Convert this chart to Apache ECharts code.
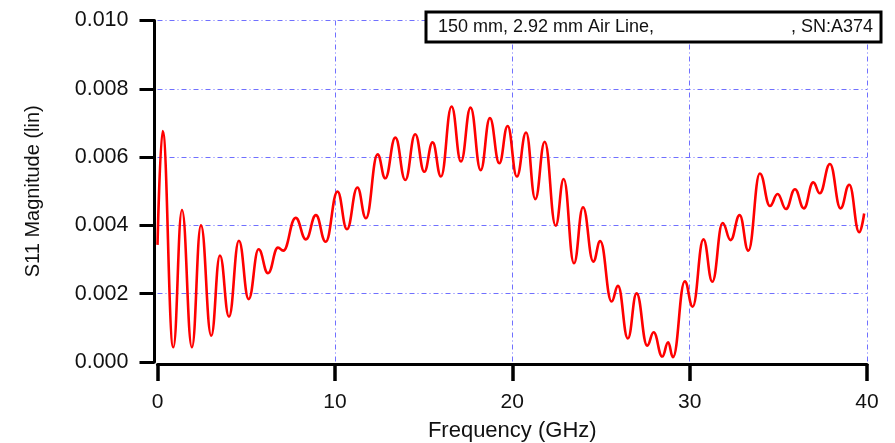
<!DOCTYPE html>
<html>
<head>
<meta charset="utf-8">
<script src="https://cdn.jsdelivr.net/npm/echarts@6/dist/echarts.min.js"></script>
<style>
  html, body { margin: 0; padding: 0; background: #fff; }
  #chart { width: 895px; height: 443px; }
</style>
</head>
<body>
<div id="chart"></div>
<script>
// frequency (GHz) of each local peak / trough
const freqGHz = [
  0, 0.29, 0.89, 1.38, 1.94, 2.45, 3.03, 3.52, 4.03, 4.59,
  5.14, 5.70, 6.23, 6.79, 7.09, 7.79, 8.37, 8.93, 9.48, 10.15,
  10.68, 11.27, 11.75, 12.41, 12.84, 13.41, 13.97, 14.53, 15.04, 15.51,
  15.98, 16.58, 17.11, 17.65, 18.22, 18.74, 19.27, 19.74, 20.26, 20.78,
  21.30, 21.83, 22.45, 22.90, 23.48, 23.99, 24.57, 24.96, 25.60, 25.96,
  26.52, 27.01, 27.61, 27.97, 28.46, 28.79, 29.06, 29.73, 30.17, 30.78,
  31.28, 31.86, 32.31, 32.82, 33.31, 33.96, 34.53, 34.96, 35.43, 35.94,
  36.44, 36.97, 37.34, 37.91, 38.51, 39.00, 39.56, 39.84
];
// S11 magnitude (linear) at those frequencies
const s11Mag = [
  0.00343, 0.00676, 0.00043, 0.00445, 0.00043, 0.00400, 0.00077, 0.00312, 0.00133, 0.00355,
  0.00184, 0.00330, 0.00260, 0.00335, 0.00326, 0.00422, 0.00359, 0.00430, 0.00352, 0.00499,
  0.00389, 0.00511, 0.00421, 0.00608, 0.00538, 0.00657, 0.00533, 0.00667, 0.00557, 0.00643,
  0.00543, 0.00748, 0.00587, 0.00745, 0.00562, 0.00714, 0.00582, 0.00691, 0.00543, 0.00672,
  0.00477, 0.00645, 0.00399, 0.00536, 0.00289, 0.00453, 0.00294, 0.00354, 0.00177, 0.00223,
  0.00069, 0.00201, 0.00048, 0.00087, 0.00016, 0.00058, 0.00014, 0.00236, 0.00162, 0.00359,
  0.00235, 0.00407, 0.00357, 0.00430, 0.00326, 0.00552, 0.00457, 0.00492, 0.00448, 0.00506,
  0.00450, 0.00526, 0.00494, 0.00580, 0.00450, 0.00519, 0.00380, 0.00435
];
const legendLeft = "150 mm, 2.92 mm Air Line,";
const legendRight = ", SN:A374";

const chart = echarts.init(document.getElementById("chart"), null, { renderer: "canvas" });
const font = "Liberation Sans";
const gridLine = {
  show: true,
  showMinLine: false, // the axes sit on the min lines
  lineStyle: { color: "#7070ff", width: 1, type: [5, 3, 1, 3] }
};

chart.setOption({
  backgroundColor: "#fff",
  animation: false,
  grid: { left: 157.5, right: 28, top: 20.5, bottom: 81, outerBoundsMode: "none" },
  xAxis: {
    type: "value",
    min: 0,
    max: 40,
    interval: 10,
    offset: 2,
    name: "Frequency (GHz)",
    nameLocation: "middle",
    nameGap: 56,
    nameTextStyle: { fontFamily: font, fontSize: 22, color: "#111" },
    axisLine: { show: true, onZero: false, lineStyle: { color: "#000", width: 3 } },
    axisTick: { show: true, inside: false, length: 17, lineStyle: { color: "#000", width: 3.5 } },
    axisLabel: { margin: 28, fontFamily: font, fontSize: 21, color: "#111" },
    splitLine: gridLine
  },
  yAxis: {
    type: "value",
    min: 0,
    max: 0.01,
    interval: 0.002,
    offset: 3,
    name: "S11 Magnitude (lin)",
    nameLocation: "middle",
    nameGap: 111,
    nameTextStyle: { fontFamily: font, fontSize: 20, color: "#111" },
    axisLine: { show: true, onZero: false, lineStyle: { color: "#000", width: 3 } },
    axisTick: { show: true, inside: false, length: 15, lineStyle: { color: "#000", width: 3 } },
    axisLabel: {
      margin: 26,
      fontFamily: font,
      fontSize: 21.5,
      color: "#111",
      formatter: (v) => v.toFixed(3)
    },
    splitLine: gridLine
  },
  series: [
    {
      type: "line",
      data: freqGHz.map((f, i) => [f, s11Mag[i]]),
      smooth: 0.45,
      smoothMonotone: "x",
      showSymbol: false,
      lineStyle: { color: "#ff0000", width: 2.6 },
      clip: false
    }
  ],
  graphic: [
    {
      type: "rect",
      z: 100,
      shape: { x: 426, y: 12, width: 455, height: 30 },
      style: { fill: "#fff", stroke: "#000", lineWidth: 3 }
    },
    {
      type: "text",
      z: 101,
      x: 438,
      y: 27,
      style: { text: legendLeft, font: "18px " + font, fill: "#111", verticalAlign: "middle" }
    },
    {
      type: "text",
      z: 101,
      x: 873,
      y: 27,
      style: { text: legendRight, font: "18px " + font, fill: "#111", align: "right", verticalAlign: "middle" }
    }
  ]
});
</script>
</body>
</html>
